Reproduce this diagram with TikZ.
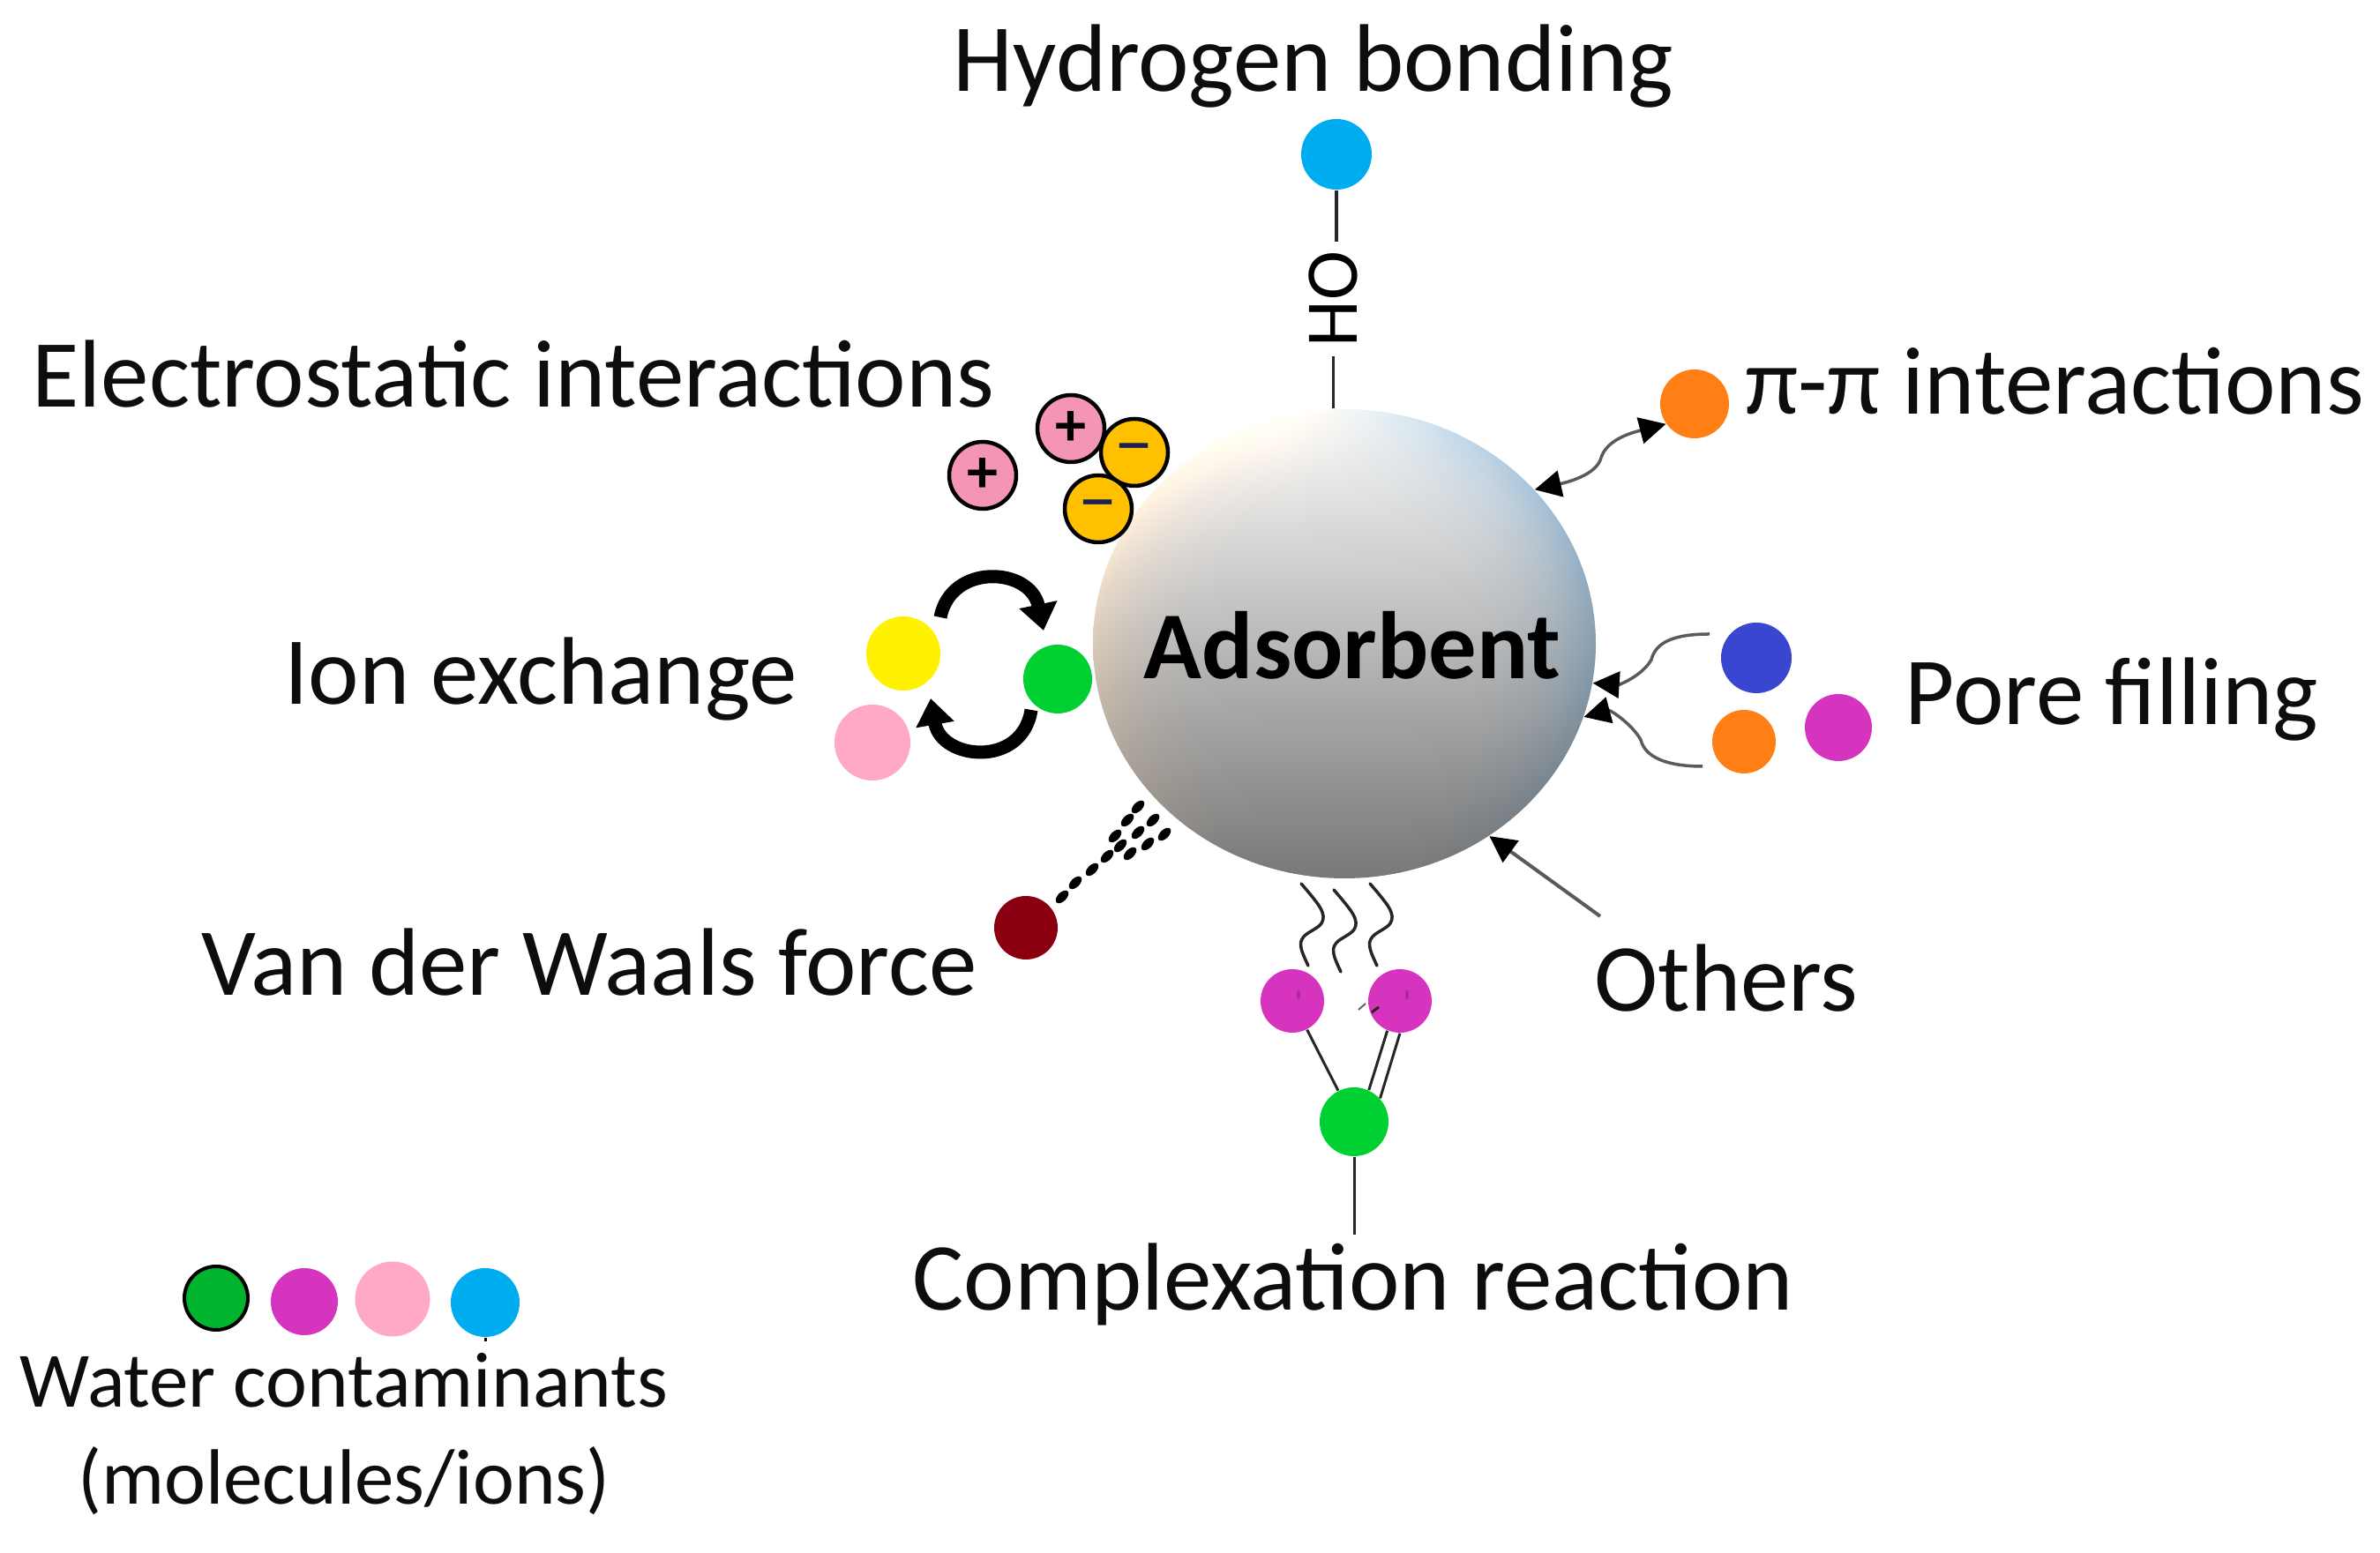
\documentclass[tikz,border=0pt]{standalone}
\usepackage{fontspec}
\setmainfont{Carlito}
\usetikzlibrary{arrows.meta, shapes.geometric}
\definecolor{myblue}{RGB}{0, 172, 240}
\definecolor{myorange}{RGB}{255, 127, 20}
\definecolor{mymagenta}{RGB}{214, 51, 190}
\definecolor{myindigo}{RGB}{58, 69, 208}
\definecolor{mygreen}{RGB}{0, 208, 50}
\definecolor{mylegend}{RGB}{0, 180, 45}
\definecolor{myyellow}{RGB}{255, 242, 0}
\definecolor{mypink}{RGB}{255, 168, 200}
\definecolor{myrose}{RGB}{244, 149, 181}
\definecolor{mygold}{RGB}{255, 192, 0}
\definecolor{mymaroon}{RGB}{139, 0, 16}
\definecolor{mygray}{RGB}{90, 90, 90}
\definecolor{mynavy}{RGB}{26, 32, 80}
\tikzset{>={Triangle[length=3mm,width=3mm,color=black]},
  atom/.style={circle, inner sep=0pt, minimum size=#1},
  ion/.style={atom=7.6mm, draw=black, line width=0.45mm},
  plusion/.style={ion, fill=myrose, font=\fontsize{20}{20}\selectfont\bfseries},
  minusion/.style={ion, fill=mygold, text=mynavy, font=\fontsize{18}{18}\selectfont\bfseries},
  textlabel/.style={anchor=base, text=black!95, inner sep=1mm, font=\fontsize{31}{31}\selectfont},
  smalllabel/.style={anchor=base, text=black!95, inner sep=1mm, font=\fontsize{25.3}{25.3}\selectfont},
  bond/.style={line width=0.3mm, black!85},
  wavy/.style={mygray, line width=0.35mm},
  swaparrow/.style={->, >={Triangle[length=3mm,width=4.2mm]}, line width=1.5mm}}
\pgfdeclarefunctionalshading{ballfn}{\pgfpoint{-50bp}{-50bp}}{\pgfpoint{50bp}{50bp}}{}{
  2 mul exch 2 mul exch
  2 copy dup mul exch dup mul add 2500 div dup mul
  2 index 2 index 0.3 mul add 50 div dup abs add 2 div 1 index mul
  3 index neg 3 index 0.5 mul add 60 div dup abs add 2 div 2 index mul
  3 index 0.0051 mul 0.725 add
  dup 3 index 0.28 mul 1 exch sub mul 2 index 0.15 mul add
  1 index 4 index 0.15 mul 1 exch sub mul 3 index 0.08 mul add
  2 index 5 index 0.05 mul 1 exch sub mul
  9 3 roll pop pop pop pop pop pop
}
\begin{document}
\begin{tikzpicture}
\useasboundingbox (0,0) rectangle (26.98,17.61);

% complexation
\node[atom=7.8mm, fill=mygreen] (cgreen) at (15.35,4.89) {};
\node[atom=7.2mm, fill=mymagenta] (mag1) at (14.65,6.26) {};
\node[atom=7.2mm, fill=mymagenta] (mag2) at (15.87,6.26) {};
\fill[mymagenta!80!black] (14.72,6.33) ellipse (0.02 and 0.06);
\fill[mymagenta!80!black] (15.95,6.33) ellipse (0.02 and 0.06);
\node[textlabel] (complex) at (15.34,2.75) {Complexation reaction};
\draw[bond] (mag1) -- (cgreen);
\draw[bond] (mag2.-113) -- (cgreen.65);
\draw[bond] (mag2.-90) -- (cgreen.42);
\draw[bond] (cgreen.south) -- (cgreen.south |- complex.north);
\draw[line width=0.2mm, black!60] (15.40,6.16) -- (15.48,6.23);
\draw[bond] (15.55,6.13) -- (15.63,6.19);
\foreach \dx/\dy in {0/0, 0.37/-0.07, 0.78/0}
  \draw[bond, line width=0.35mm, line cap=round, xshift=\dx cm, yshift=\dy cm]
  plot [smooth, tension=0.6] coordinates{ (14.75,7.59) (14.97,7.31) (14.98,7.14) (14.78,6.99) (14.75,6.86) (14.83,6.66) };

% ion exchange
\node[atom=8.4mm, fill=myyellow] (yellow) at (10.24,10.20) {};
\node[atom=8.6mm, fill=mypink] (pink) at (9.89,9.19) {};
\node[atom=7.8mm, fill=mygreen] (green) at (11.99,9.91) {};
\coordinate (swapa) at (10.66,10.61);
\coordinate (swapb) at (11.83,10.46);
\coordinate (swapc) at (11.69,9.56);
\coordinate (swapd) at (10.55,9.69);
\draw[swaparrow] (swapa) .. controls +(0.12,0.62) and +(-0.15,0.72) .. (swapb);
\draw[swaparrow] (swapc) .. controls +(-0.10,-0.66) and +(0.12,-0.70) .. (swapd);

% adsorbent ball
\node[ellipse, inner sep=0pt, minimum width=5.70cm, minimum height=5.32cm, shading=ballfn] (ball) at (15.24,10.31) {};
\node[anchor=base, font=\fontsize{30.9}{31}\selectfont\bfseries] (adsorbent) at (15.33,9.91) {Adsorbent};

% hydrogen bonding
\node[atom=8mm, fill=myblue] (hblue) at (15.15,15.86) {};
\node[rotate=90, inner sep=1mm, font=\fontsize{24}{24}\selectfont] (oh) at (15.11,14.22) {HO};
\node[textlabel] (hlabel) at (14.89,16.57) {Hydrogen bonding};
\draw[bond, line width=0.4mm] (hblue.south) -- (hblue.south |- oh.east);
\draw[bond] (oh.west) -- (oh.west |- ball.north);

% electrostatic
\node[plusion] (plusa) at (11.14,12.22) {+};
\node[plusion] (plusb) at (12.14,12.75) {+};
\node[minusion] (minusa) at (12.86,12.48) {\scalebox{0.7}[1]{—}};
\node[minusion] (minusb) at (12.45,11.84) {\scalebox{0.7}[1]{—}};
\node[textlabel] (elabel) at (5.82,12.99) {Electrostatic interactions};
\node[textlabel] (ilabel) at (6.13,9.62) {Ion exchange};

% van der waals
\node[atom=7.2mm, fill=mymaroon] (maroon) at (11.63,7.09) {};
\foreach \dotx/\doty in {12.04/7.44, 12.19/7.60, 12.38/7.75, 12.55/7.90, 12.64/8.13, 12.78/8.31, 12.90/8.46, 12.70/8.02, 12.90/8.17, 13.07/8.31, 12.81/7.93, 13.01/8.04, 13.20/8.15}
  \fill[shift={(\dotx,\doty)}, rotate=45] (0,0) ellipse (0.09 and 0.05);
\node[textlabel] (vlabel) at (6.68,6.32) {Van der Waals force};

% pi-pi
\node[atom=7.8mm, fill=myorange] (piorb) at (19.21,13.03) {};
\node[textlabel] (pilabel) at (23.29,12.91) {π-π interactions};
\coordinate (piwave) at (18.15,12.42);
\draw[wavy, <-] (ball.39) .. controls +(0.35,0.08) and +(-0.05,-0.20) .. (piwave);
\draw[wavy, ->] (piwave) .. controls +(0.07,0.22) and +(-0.35,-0.09) .. (piorb.215);

% pore filling
\node[atom=8mm, fill=myindigo] (indigo) at (19.91,10.15) {};
\node[atom=7.2mm, fill=myorange] (oranged) at (19.77,9.20) {};
\node[atom=7.6mm, fill=mymagenta] (magp) at (20.84,9.36) {};
\node[textlabel] (plabel) at (23.94,9.39) {Pore filling};
\coordinate (porea) at (19.38,10.42);
\coordinate (poreb) at (19.30,8.92);
\coordinate (poremida) at (18.72,10.13);
\coordinate (poremidb) at (18.60,9.22);
\draw[wavy, ->] (porea) .. controls +(-0.40,0) and +(0.05,0.20) .. (poremida) .. controls +(-0.10,-0.18) and +(0.30,-0.02) .. (ball.-9);
\draw[wavy, ->] (poreb) .. controls +(-0.40,0) and +(0.05,-0.20) .. (poremidb) .. controls +(-0.10,0.18) and +(0.30,0.08) .. (ball.-17);

% others
\node[textlabel] (olabel) at (19.57,6.14) {Others};
\coordinate (otherstart) at (18.14,7.22);
\draw[wavy, ->, line width=0.4mm] (otherstart) -- (ball.-53);

% legend
\node[atom=7.2mm, fill=mylegend, draw=black, line width=0.4mm] (lega) at (2.45,2.89) {};
\node[atom=7.6mm, fill=mymagenta] (legb) at (3.45,2.85) {};
\node[atom=8.5mm, fill=mypink] (legc) at (4.45,2.88) {};
\node[atom=7.8mm, fill=myblue] (legd) at (5.50,2.84) {};
\draw[line width=0.3mm] (legd.south) -- +(0,-0.04);
\node[smalllabel] (wlabel) at (3.90,1.65) {Water contaminants};
\node[smalllabel] (mlabel) at (3.90,0.55) {(molecules/ions)};
\end{tikzpicture}
\end{document}
